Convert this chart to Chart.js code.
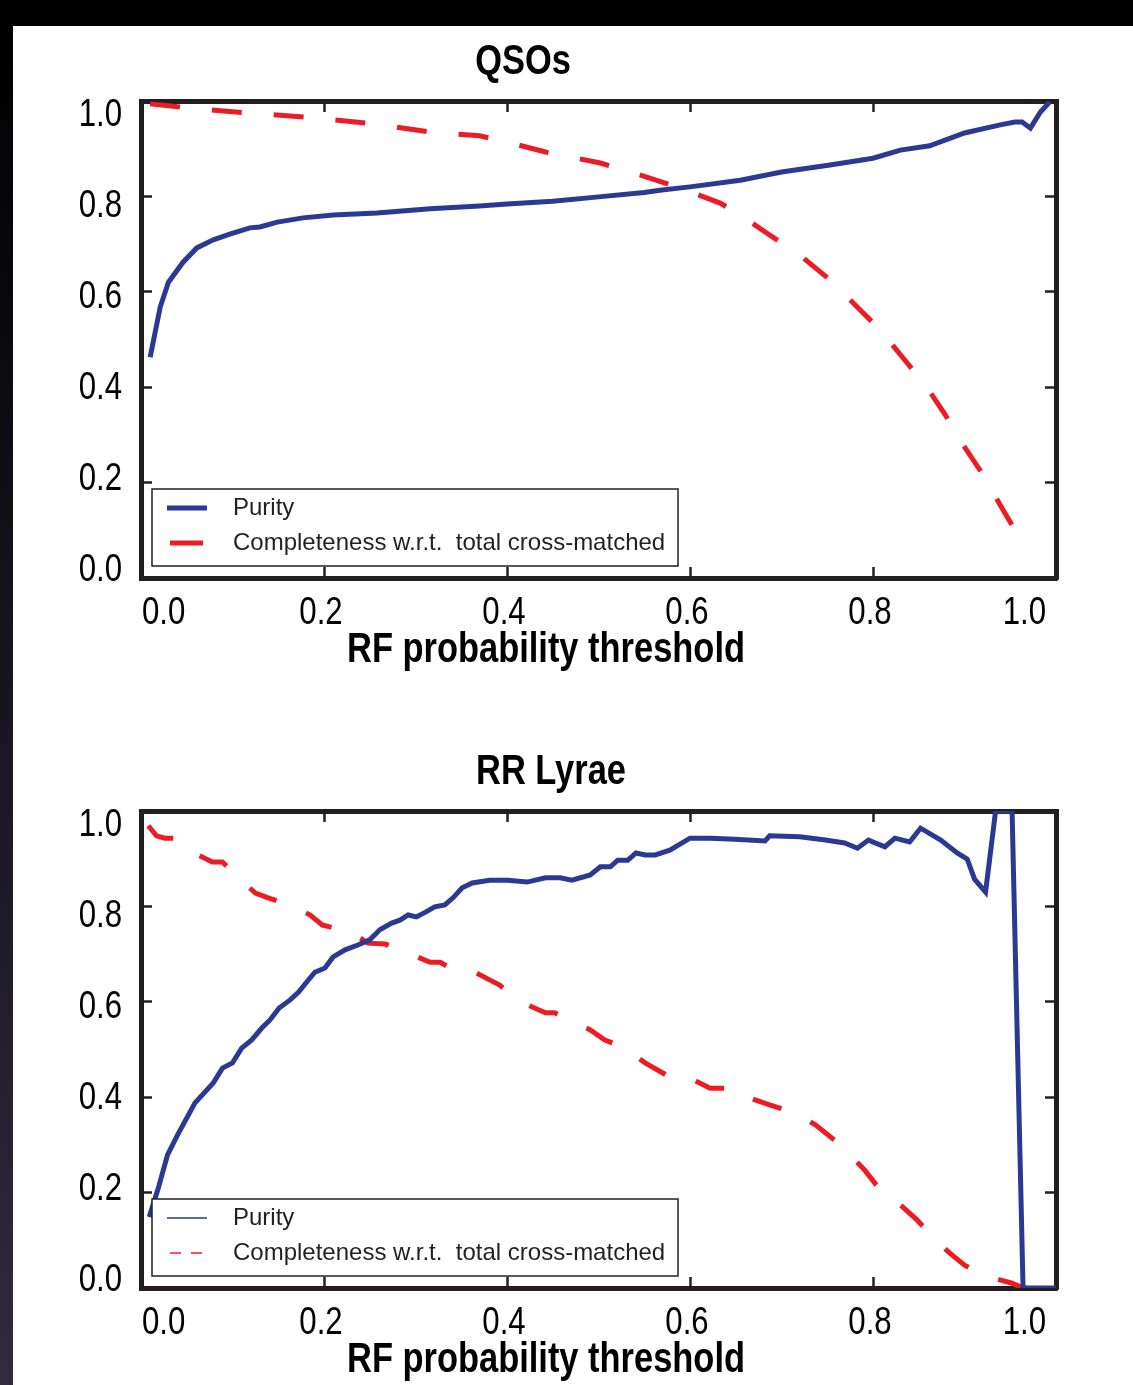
<!DOCTYPE html>
<html>
<head>
<meta charset="utf-8">
<script src="https://cdn.jsdelivr.net/npm/chart.js@4"></script>
<style>
  html, body { margin: 0; padding: 0; background: #fff; }
  body { position: relative; width: 1133px; height: 1385px; overflow: hidden; }
  #topbar { position: absolute; left: 0; top: 0; width: 1133px; height: 26px; background: #000; }
  #sidebar { position: absolute; left: 0; top: 26px; width: 13px; height: 1359px; background: linear-gradient(#000, #2f2a3e); }
  canvas { position: absolute; left: 0; }
  #qso { top: 0; }
  #rrl { top: 710px; }
</style>
</head>
<body>
<div id="topbar"></div>
<div id="sidebar"></div>
<canvas id="qso" width="1133" height="710"></canvas>
<canvas id="rrl" width="1133" height="675"></canvas>
<script>
// tick values / labels shared by both panels
const tickValues = [0, 0.2, 0.4, 0.6, 0.8, 1.0];
const tickLabels = ['0.0', '0.2', '0.4', '0.6', '0.8', '1.0'];
const seriesNames = ['Purity', 'Completeness w.r.t.  total cross-matched'];

// QSOs
const qsoPurityX = [0.01, 0.021, 0.03, 0.046, 0.061, 0.079, 0.097, 0.119, 0.13, 0.149, 0.177, 0.21, 0.258, 0.316, 0.37, 0.4, 0.45, 0.5, 0.55, 0.567, 0.6, 0.655, 0.7, 0.753, 0.8, 0.83, 0.862, 0.9, 0.939, 0.955, 0.963, 0.972, 0.983, 0.993];
const qsoPurityY = [0.463, 0.568, 0.62, 0.662, 0.692, 0.709, 0.721, 0.734, 0.736, 0.746, 0.755, 0.761, 0.765, 0.774, 0.78, 0.784, 0.79, 0.799, 0.808, 0.813, 0.82, 0.834, 0.851, 0.866, 0.88, 0.897, 0.906, 0.933, 0.95, 0.956, 0.956, 0.943, 0.977, 0.998];
const qsoComplX = [0.01, 0.045, 0.114, 0.183, 0.254, 0.316, 0.37, 0.392, 0.442, 0.502, 0.545, 0.589, 0.633, 0.655, 0.687, 0.72, 0.753, 0.786, 0.808, 0.83, 0.857, 0.879, 0.895, 0.917, 0.939, 0.955, 0.966];
const qsoComplY = [0.994, 0.987, 0.975, 0.966, 0.952, 0.935, 0.927, 0.918, 0.893, 0.87, 0.845, 0.818, 0.786, 0.761, 0.719, 0.677, 0.625, 0.562, 0.52, 0.468, 0.405, 0.342, 0.289, 0.226, 0.153, 0.101, 0.055];

// RR Lyrae
const rrlPurityX = [0.009, 0.019, 0.029, 0.04, 0.059, 0.079, 0.089, 0.1, 0.11, 0.121, 0.132, 0.141, 0.151, 0.163, 0.172, 0.18, 0.19, 0.201, 0.21, 0.223, 0.237, 0.25, 0.261, 0.274, 0.283, 0.292, 0.301, 0.311, 0.321, 0.332, 0.341, 0.351, 0.362, 0.381, 0.401, 0.422, 0.442, 0.458, 0.471, 0.491, 0.502, 0.513, 0.521, 0.532, 0.541, 0.551, 0.562, 0.578, 0.6, 0.622, 0.649, 0.682, 0.687, 0.72, 0.748, 0.769, 0.783, 0.795, 0.813, 0.824, 0.84, 0.852, 0.874, 0.892, 0.903, 0.911, 0.923, 0.934, 0.952, 0.964, 1.0];
const rrlPurityY = [0.149, 0.21, 0.279, 0.321, 0.388, 0.43, 0.461, 0.472, 0.503, 0.52, 0.545, 0.562, 0.587, 0.604, 0.62, 0.639, 0.662, 0.671, 0.694, 0.709, 0.719, 0.73, 0.751, 0.765, 0.771, 0.782, 0.778, 0.788, 0.799, 0.803, 0.818, 0.839, 0.849, 0.855, 0.855, 0.851, 0.86, 0.86, 0.855, 0.866, 0.883, 0.883, 0.897, 0.897, 0.912, 0.908, 0.908, 0.918, 0.943, 0.943, 0.941, 0.937, 0.948, 0.946, 0.939, 0.933, 0.922, 0.939, 0.925, 0.943, 0.935, 0.964, 0.939, 0.912, 0.899, 0.857, 0.83, 1.0, 1.0, 0.0, 0.0];
const rrlComplX = [0.008, 0.017, 0.026, 0.037, 0.064, 0.078, 0.089, 0.1, 0.125, 0.139, 0.163, 0.185, 0.198, 0.21, 0.223, 0.248, 0.267, 0.283, 0.316, 0.327, 0.338, 0.36, 0.381, 0.392, 0.405, 0.423, 0.442, 0.452, 0.469, 0.491, 0.507, 0.529, 0.551, 0.58, 0.6, 0.622, 0.649, 0.666, 0.687, 0.715, 0.737, 0.758, 0.775, 0.791, 0.808, 0.83, 0.848, 0.868, 0.884, 0.9, 0.914, 0.928, 0.952, 0.964, 1.0];
const rrlComplY = [0.969, 0.948, 0.943, 0.943, 0.906, 0.893, 0.893, 0.872, 0.828, 0.818, 0.803, 0.782, 0.761, 0.755, 0.755, 0.723, 0.721, 0.709, 0.683, 0.683, 0.671, 0.667, 0.646, 0.635, 0.614, 0.593, 0.577, 0.577, 0.562, 0.541, 0.52, 0.503, 0.472, 0.44, 0.44, 0.419, 0.419, 0.398, 0.384, 0.367, 0.342, 0.31, 0.279, 0.247, 0.205, 0.174, 0.143, 0.101, 0.073, 0.048, 0.034, 0.023, 0.01, 0.0, 0.0];

const INK = '#231f20';
const BLUE = '#2b3992';
const RED = '#ed1c24';
const SANS = '"Liberation Sans", Arial, Helvetica, sans-serif';
const NARROW = 0.82; // the original uses a condensed Helvetica

const zip = (xs, ys) => xs.map((x, i) => ({ x: x, y: ys[i] }));

// condensed text: squeeze the glyphs horizontally around the anchor point
function narrowText(ctx, text, x, y, font, align, baseline) {
    ctx.save();
    ctx.translate(x, y);
    ctx.scale(NARROW, 1);
    ctx.font = font;
    ctx.textAlign = align;
    ctx.textBaseline = baseline;
    ctx.fillText(text, 0, 0);
    ctx.restore();
}

// tick labels, panel title and x title
const frameText = {
    id: 'frameText',
    afterDraw(chart, args, o) {
        const ctx = chart.ctx;
        const area = chart.chartArea;
        const xs = chart.scales.x, ys = chart.scales.y;
        const tickFont = '38px ' + SANS;
        ctx.save();
        ctx.fillStyle = '#000';
        tickValues.forEach((v, i) => {
            // end labels are pulled inside the frame, as in the original
            const py = ys.getPixelForValue(v) + (v - 0.5) * 22 + 4;
            narrowText(ctx, tickLabels[i], area.left - 19, py, tickFont, 'right', 'middle');
            const last = i === tickValues.length - 1;
            const align = i === 0 ? 'left' : (last ? 'right' : 'center');
            const px = xs.getPixelForValue(v) + (i === 0 ? 1 : (last ? -10 : -3));
            narrowText(ctx, tickLabels[i], px, area.bottom + 36, tickFont, align, 'middle');
        });
        const titleFont = 'bold 42px ' + SANS;
        narrowText(ctx, o.title, o.titleX, 74, titleFont, 'center', 'alphabetic');
        narrowText(ctx, o.xTitle, 546, 662, titleFont, 'center', 'alphabetic');
        ctx.restore();
    }
};

// boxed legend in the lower left corner of the plot
const boxLegend = {
    id: 'boxLegend',
    afterDraw(chart, args, o) {
        const ctx = chart.ctx;
        const area = chart.chartArea;
        const left = area.left + 11, right = area.left + 537;
        const bottom = area.bottom - 12, top = bottom - 77;
        ctx.save();
        ctx.fillStyle = '#fff';
        ctx.fillRect(left, top, right - left, bottom - top);
        ctx.strokeStyle = INK;
        ctx.lineWidth = 1.5;
        ctx.strokeRect(left, top, right - left, bottom - top);
        ctx.font = '24px ' + SANS;
        ctx.textBaseline = 'middle';
        ctx.textAlign = 'left';
        chart.data.datasets.forEach((ds, i) => {
            const y = top + 19 + i * 35;
            ctx.strokeStyle = ds.borderColor;
            ctx.lineWidth = o.lineWidth;
            ctx.setLineDash(i === 0 ? [] : o.dash);
            ctx.beginPath();
            ctx.moveTo(left + (i === 0 ? 15 : 18), y);
            ctx.lineTo(left + (i === 0 ? 55 : 51), y);
            ctx.stroke();
            ctx.fillStyle = INK;
            ctx.fillText(ds.label, left + 81, y);
        });
        ctx.restore();
    }
};

function frameAxis(pos, axis, size) {
    const horizontal = pos === 'top' || pos === 'bottom';
    return {
        type: 'linear',
        axis: axis,
        position: pos,
        min: 0,
        max: 1,
        z: 1,
        afterBuildTicks: s => { s.ticks = tickValues.map(v => ({ value: v })); },
        afterFit: s => { if (horizontal) s.height = size; else s.width = size; },
        border: { display: true, width: 5, color: INK },
        grid: { display: true, drawOnChartArea: false, drawTicks: true, tickLength: -11, tickWidth: 2.5, tickColor: INK },
        ticks: { display: false }
    };
}

function makePanel(id, title, titleX, purity, compl, xAxisHeight, legendStyle) {
    return new Chart(document.getElementById(id), {
        type: 'line',
        data: {
            datasets: [
                { label: seriesNames[0], data: purity, borderColor: BLUE, borderWidth: 5, pointRadius: 0, tension: 0, fill: false },
                { label: seriesNames[1], data: compl, borderColor: RED, borderWidth: 5, borderDash: [30, 32], pointRadius: 0, tension: 0, fill: false }
            ]
        },
        options: {
            responsive: false,
            animation: false,
            devicePixelRatio: 1,
            layout: { padding: { top: 101, left: 0, right: 0, bottom: 0 } },
            scales: {
                x: frameAxis('bottom', 'x', xAxisHeight),
                x2: frameAxis('top', 'x', 0),
                y: frameAxis('left', 'y', 141),
                y2: frameAxis('right', 'y', 77)
            },
            plugins: {
                legend: { display: false },
                tooltip: { enabled: false },
                frameText: { title: title, titleX: titleX, xTitle: 'RF probability threshold' },
                boxLegend: legendStyle
            }
        },
        plugins: [frameText, boxLegend]
    });
}

makePanel('qso', 'QSOs', 523, zip(qsoPurityX, qsoPurityY), zip(qsoComplX, qsoComplY), 132, { lineWidth: 5, dash: [40, 10] });
makePanel('rrl', 'RR Lyrae', 551, zip(rrlPurityX, rrlPurityY), zip(rrlComplX, rrlComplY), 97, { lineWidth: 1.5, dash: [11, 10] });
</script>
</body>
</html>
